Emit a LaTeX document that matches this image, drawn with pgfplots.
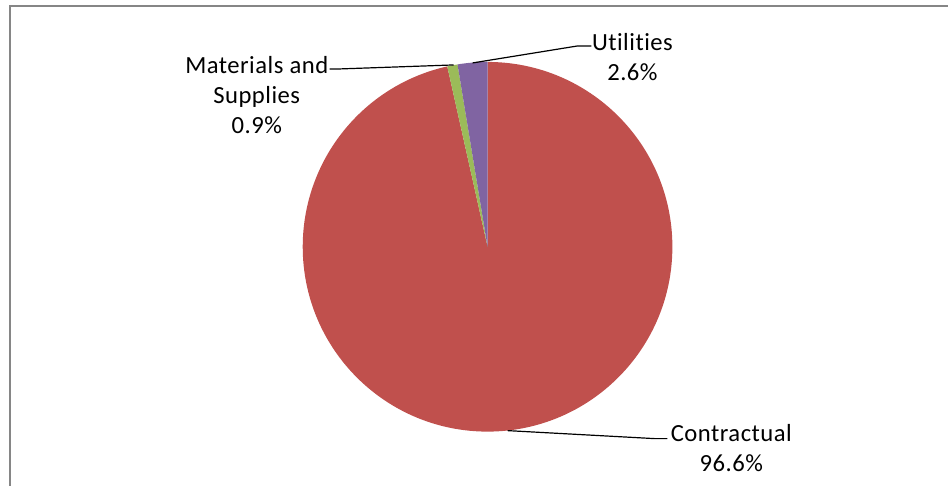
\documentclass[border=0pt]{standalone}
\usepackage{pgfplots}
\pgfplotsset{compat=1.18}
\usepackage{pgfplotstable}
\usepackage{fontspec}
\setmainfont{Carlito}[Ligatures=NoCommon, LetterSpace=2]
\definecolor{cRed}{HTML}{C0504D}
\definecolor{cGreen}{HTML}{9BBB59}
\definecolor{cPurple}{HTML}{8064A2}
\definecolor{cFrame}{HTML}{868686}
\pgfplotstableread[col sep=comma]{
name,value
Contractual,96.6
Materials and Supplies,0.9
Utilities,2.6
}\pietable
\begin{document}
\begin{tikzpicture}
\pgfplotstablegetelem{0}{value}\of\pietable \global\let\vA\pgfplotsretval
\pgfplotstablegetelem{1}{value}\of\pietable \global\let\vB\pgfplotsretval
\pgfplotstablegetelem{2}{value}\of\pietable \global\let\vC\pgfplotsretval
\pgfmathsetmacro\tot{\vA+\vB+\vC}
\pgfmathsetmacro\aA{90}
\pgfmathsetmacro\aB{90-3.6*(\vA/\tot*100)}
\pgfmathsetmacro\aC{\aB-3.6*(\vB/\tot*100)}
\pgfmathsetmacro\aD{\aC-3.6*(\vC/\tot*100)}
\begin{axis}[scale only axis, width=711.75pt, height=364.5pt,
  xmin=0, xmax=949, ymin=0, ymax=486, hide axis, clip=false]
\path (axis cs:0,0) (axis cs:949,486);
\draw[cFrame, line width=1.3pt] (axis cs:10,0) -- (axis cs:10,480) -- (axis cs:949,480);
\fill[cRed] (axis cs:488,239) -- ++(\aA:138.75pt) arc[start angle=\aA, end angle=\aB, radius=138.75pt] -- cycle;
\fill[cGreen] (axis cs:488,239) -- ++(\aB:138.75pt) arc[start angle=\aB, end angle=\aC, radius=138.75pt] -- cycle;
\fill[cPurple] (axis cs:488,239) -- ++(\aC:138.75pt) arc[start angle=\aC, end angle=\aD, radius=138.75pt] -- cycle;
\draw[black, line width=0.9pt] (axis cs:454,421) -- (axis cs:340,417) -- (axis cs:330,417);
\draw[black, line width=0.9pt] (axis cs:473,423) -- (axis cs:578,440) -- (axis cs:592,440);
\draw[black, line width=0.9pt] (axis cs:508,55) -- (axis cs:655,47) -- (axis cs:668,47);
\node[align=center, font=\fontsize{18.5}{22.5}\selectfont, inner sep=0pt] at (axis cs:257,391) {Materials and\\Supplies\\0.9\%};
\node[align=center, font=\fontsize{18.5}{22.5}\selectfont, inner sep=0pt] at (axis cs:633,429) {Utilities\\2.6\%};
\node[align=center, font=\fontsize{18.5}{22.5}\selectfont, inner sep=0pt] at (axis cs:732,38) {Contractual\\96.6\%};
\end{axis}
\end{tikzpicture}
\end{document}
